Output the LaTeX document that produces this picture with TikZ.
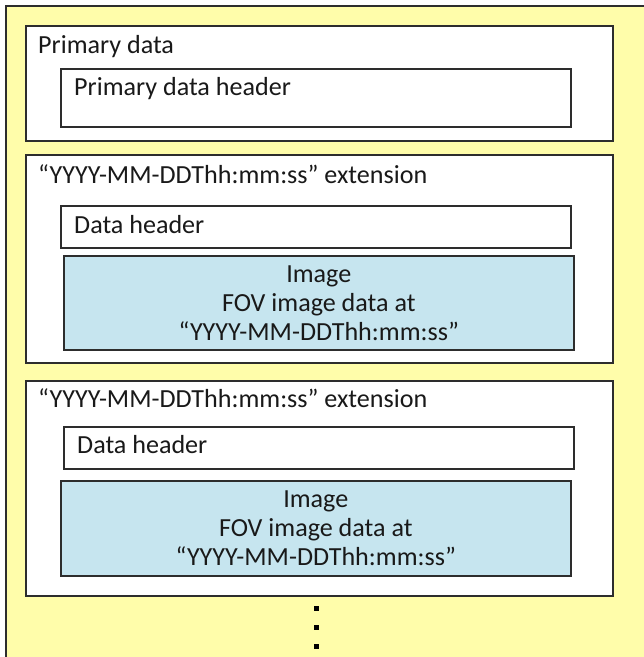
\documentclass[tikz,border=0pt]{standalone}
\usepackage{fontspec}
\setmainfont{Carlito}
\usetikzlibrary{positioning}
\definecolor{paleyellow}{RGB}{255,253,170}
\definecolor{imgblue}{RGB}{198,229,239}
\definecolor{edgegray}{RGB}{45,45,45}
\newcommand{\bodyfont}{\fontsize{26.1}{29}\selectfont}
\tikzset{
  frame/.style={fill=paleyellow,draw=edgegray,line width=1.4pt},
  part/.style={draw=edgegray,line width=1.6pt,fill=white,anchor=north west,
               inner sep=0pt,minimum width=587pt},
  hdr/.style={part,minimum width=510pt,minimum height=42pt},
  img/.style={part,fill=imgblue,minimum width=510pt,minimum height=94pt,
              align=center,font=\bodyfont,text=black!90},
  lab/.style={anchor=base west,inner sep=0pt,font=\bodyfont,text=black!90},
}

\begin{document}
\begin{tikzpicture}[x=1pt,y=-1pt]
  \path[use as bounding box] (0,0) rectangle (644,657);
  \fill[paleyellow] (6,6) rectangle (644,657);
  \draw[edgegray,line width=1.4pt] (6,657) -- (6,6) -- (644,6);

  % primary part
  \node[part,minimum height=115pt] (prim) at (25,25) {};
  \node[lab] (primlab) at (38,53) {Primary data};
  \node[hdr,minimum height=58pt] (primhdr) at (60,68) {};
  \node[lab] (primhdrlab) at (74,95) {Primary data header};

  % first extension
  \node[part,minimum height=208pt] (extA) at (25,154) {};
  \node[lab] (extAlab) at (38,183) {“YYYY-MM-DDThh:mm:ss” extension};
  \node[hdr] (hdrA) at (60,205) {};
  \node[lab] (hdrAlab) at (74,233) {Data header};
  \node[img] (imgA) at (63,255)
    {Image\\FOV image data at\\“YYYY-MM-DDThh:mm:ss”};

  % second extension
  \node[part,minimum height=215pt] (extB) at (25,380) {};
  \node[lab] (extBlab) at (38,407) {“YYYY-MM-DDThh:mm:ss” extension};
  \node[hdr] (hdrB) at (63,426) {};
  \node[lab] (hdrBlab) at (77,453) {Data header};
  \node[img,minimum height=95pt] (imgB) at (60,480)
    {Image\\FOV image data at\\“YYYY-MM-DDThh:mm:ss”};

  % more extensions follow
  \foreach \yy in {608,627,646}
    \fill[black] (313.5,\yy-2.5) rectangle (318.5,\yy+2.5);
\end{tikzpicture}
\end{document}
